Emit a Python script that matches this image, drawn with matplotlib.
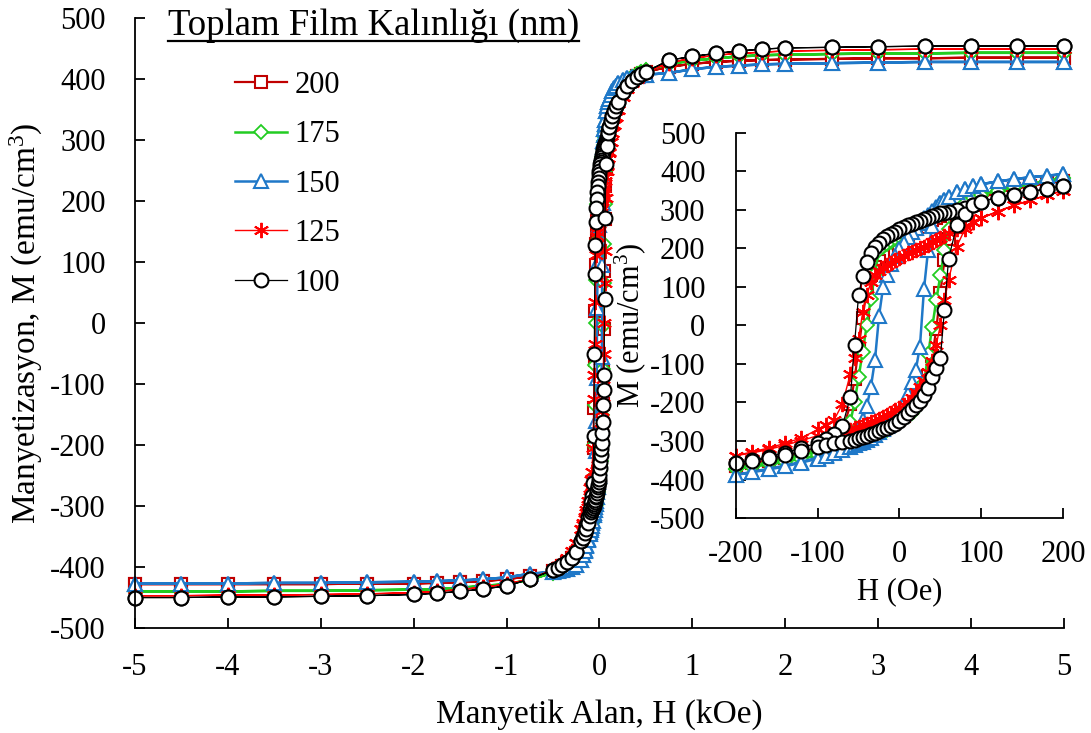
import matplotlib
matplotlib.use("Agg")
import matplotlib.pyplot as plt
import numpy as np
from matplotlib.lines import Line2D

plt.rcParams['font.family'] = ['Liberation Serif', 'DejaVu Serif']
plt.rcParams['mathtext.fontset'] = 'custom'
plt.rcParams['mathtext.rm'] = 'Liberation Serif'
plt.rcParams['axes.unicode_minus'] = False

# --- field grids ---
# high-field points (kOe), mirrored for the negative side
H_FAR = [0.25, 0.3, 0.35, 0.4, 0.45, 0.5, 0.75, 1, 1.25, 1.5, 1.75, 2,
         2.5, 3, 3.5, 4, 4.5, 5]
# low-field loop points (Oe)
H_LOOP = [-200, -180, -160, -140, -120, -100, -90, -80, -70,
          -60, -55, -50, -45, -40, -35, -30, -25, -20, -15, -10, -5, 0,
          5, 10, 15, 20, 25, 30, 35, 40, 45, 50, 55, 60,
          70, 80, 90, 100, 120, 140, 160, 180, 200]

# --- 200 nm ---
M200_POS = [386, 394, 400, 405, 409, 412, 420, 425, 428, 430, 431, 432, 433, 434, 434, 435, 435, 435]
M200_NEG = [-377, -386, -393, -398, -403, -407, -415, -420, -423, -425, -426, -427, -427, -428, -428, -428, -428, -428]
M200_DOWN = [-365, -358, -350, -341, -331, -319, -310, -298, -275,
             -205, -140, -60, 20, 95, 130, 152, 168, 182, 194, 204, 213, 221,
             229, 236, 243, 250, 256, 262, 268, 274, 280, 285, 291, 296,
             306, 316, 325, 333, 345, 355, 363, 370, 375]
M200_UP = [-365, -358, -351, -343, -334, -325, -319, -313, -307,
           -301, -297, -293, -290, -286, -282, -278, -273, -268, -262, -256, -249, -242,
           -234, -225, -214, -201, -185, -162, -132, -80, -10, 85, 170, 225,
           255, 288, 313, 333, 345, 355, 363, 370, 375]

# --- 175 nm ---
M175_POS = [392, 399, 404, 408, 411, 414, 425, 430, 434, 437, 439, 440, 441, 442, 442, 443, 443, 443]
M175_NEG = [-384, -392, -398, -402, -406, -409, -421, -428, -431, -434, -436, -437, -438, -439, -439, -440, -440, -440]
M175_DOWN = [-372, -365, -357, -348, -338, -326, -318, -308, -290,
             -250, -200, -135, -68, 0, 70, 135, 195, 205, 212, 218, 224, 230,
             238, 245, 252, 259, 265, 272, 278, 285, 292, 298, 305, 311,
             320, 328, 334, 340, 350, 359, 367, 375, 383]
M175_UP = [-372, -367, -361, -354, -346, -337, -332, -327, -321,
           -315, -311, -307, -303, -299, -294, -289, -283, -277, -271, -264, -257, -250,
           -243, -235, -226, -214, -198, -150, -75, -5, 65, 130, 195, 250,
           290, 318, 332, 340, 350, 359, 367, 375, 383]

# --- 150 nm ---
M150_POS = [398, 401, 403, 405, 406, 407, 410, 416, 420, 422, 424, 425, 426, 427, 428, 428, 428, 428]
M150_NEG = [-396, -400, -403, -405, -407, -408, -411, -417, -420, -422, -423, -424, -425, -426, -426, -427, -427, -427]
M150_DOWN = [-388, -380, -372, -364, -354, -343, -336, -328, -315,
             -298, -285, -268, -245, -210, -160, -90, 25, 100, 132, 160, 181, 198,
             215, 231, 243, 254, 266, 278, 288, 298, 309, 318, 326, 333,
             347, 355, 362, 367, 374, 380, 385, 389, 393]
M150_UP = [-388, -381, -374, -366, -356, -346, -339, -332, -324,
           -315, -311, -306, -302, -297, -291, -285, -277, -268, -260, -250, -238, -224,
           -203, -178, -148, -115, -55, 95, 196, 258, 296, 318, 326, 333,
           347, 355, 362, 367, 374, 380, 385, 389, 393]

# --- 125 nm ---
M125_POS = [370, 383, 393, 400, 406, 411, 427, 434, 439, 442, 444, 446, 447, 448, 449, 449, 449, 449]
M125_NEG = [-360, -374, -385, -393, -399, -404, -420, -428, -433, -437, -440, -442, -444, -445, -446, -446, -447, -447]
M125_DOWN = [-338, -328, -318, -306, -292, -270, -258, -245, -205,
             -125, -85, -35, 35, 78, 112, 130, 142, 150, 157, 163, 169, 175,
             181, 187, 192, 196, 200, 205, 210, 216, 222, 227, 233, 239,
             250, 258, 270, 278, 296, 312, 325, 338, 350]
M125_UP = [-338, -331, -322, -311, -299, -286, -281, -277, -274,
           -271, -267, -263, -259, -255, -251, -247, -242, -237, -232, -227, -220, -214,
           -207, -199, -188, -174, -159, -145, -122, -92, -50, 0, 65, 118,
           205, 250, 270, 280, 296, 312, 325, 338, 350]

# --- 100 nm ---
M100_POS = [378, 389, 397, 403, 408, 412, 431, 437, 442, 446, 449, 451, 452, 453, 454, 454, 454, 454]
M100_NEG = [-375, -385, -391, -397, -401, -405, -420, -431, -436, -440, -443, -445, -447, -448, -449, -449, -450, -450]
M100_DOWN = [-357, -349, -341, -331, -318, -305, -294, -283, -262,
             -185, -50, 80, 128, 165, 188, 203, 215, 224, 232, 238, 244, 250,
             256, 260, 264, 268, 272, 276, 280, 284, 288, 291, 293, 295,
             299, 305, 314, 322, 332, 340, 347, 355, 362]
M100_UP = [-357, -352, -345, -337, -327, -316, -310, -306, -303,
           -300, -297, -293, -290, -286, -283, -278, -273, -268, -265, -261, -256, -249,
           -238, -227, -217, -207, -196, -181, -163, -135, -110, -85, 40, 172,
           260, 290, 312, 322, 332, 340, 347, 355, 362]

LABELS = ['200', '175', '150', '125', '100']
DATA = [
    (M200_POS, M200_NEG, M200_DOWN, M200_UP),
    (M175_POS, M175_NEG, M175_DOWN, M175_UP),
    (M150_POS, M150_NEG, M150_DOWN, M150_UP),
    (M125_POS, M125_NEG, M125_DOWN, M125_UP),
    (M100_POS, M100_NEG, M100_DOWN, M100_UP),
]
STYLES = [
    dict(color='#C00000', marker='s', lw=1.6, ms=9, mew=1.5),
    dict(color='#22CC22', marker='D', lw=1.8, ms=7, mew=1.3),
    dict(color='#1F78C8', marker='^', lw=1.8, ms=10, mew=1.5),
    dict(color='#FF0000', marker=(6, 2, 0), lw=1.0, ms=11, mew=1.4),
    dict(color='black', marker='o', lw=0.9, ms=10, mew=1.5),
]


def full_loop(m_pos, m_neg, m_down, m_up):
    """Descending then ascending branch, field in kOe."""
    far = np.array(H_FAR, dtype=float)
    loop = np.array(H_LOOP, dtype=float) / 1000.0
    h = np.concatenate([far[::-1], loop[::-1], -far, -far[::-1], loop, far])
    m = np.concatenate([np.array(m_pos)[::-1], np.array(m_down)[::-1], m_neg,
                        np.array(m_neg)[::-1], m_up, m_pos])
    return h, m


def low_loop(m_down, m_up):
    loop = np.array(H_LOOP, dtype=float)
    h = np.concatenate([loop[::-1], loop])
    m = np.concatenate([np.array(m_down)[::-1], m_up])
    return h, m


fig = plt.figure(figsize=(10.91, 7.33), dpi=100)

# main axes
ax = fig.add_axes([0.1237, 0.1432, 0.8515, 0.8322])
handles = []
for (mp, mn, md, mu), st in zip(DATA, STYLES):
    h, m = full_loop(mp, mn, md, mu)
    ln, = ax.plot(h, m, color=st['color'], lw=st['lw'], marker=st['marker'],
                  ms=st['ms'], mew=st['mew'], mfc='white', mec=st['color'],
                  clip_on=False)
    handles.append(ln)

ax.set_xlim(-5, 5)
ax.set_ylim(-500, 500)
ax.set_xticks(np.arange(-5, 6, 1))
ax.set_yticks(np.arange(-500, 501, 100))
for s in ['top', 'right']:
    ax.spines[s].set_visible(False)
for s in ['left', 'bottom']:
    ax.spines[s].set_linewidth(1.3)
ax.tick_params(direction='in', length=7, width=1.3, labelsize=22)
ax.tick_params(axis='x', pad=18)
ax.tick_params(axis='y', pad=21)
ax.set_xlabel('Manyetik Alan, H (kOe)', fontsize=24)
ax.set_ylabel(r'Manyetizasyon, M (emu/cm$\mathregular{^3}$)', fontsize=24)
ax.xaxis.set_label_coords(0.5, -0.116)
ax.yaxis.set_label_coords(-0.097, 0.5)

leg = ax.legend(handles, LABELS, loc='upper left',
                bbox_to_anchor=(0.2154, 0.9035), bbox_transform=fig.transFigure,
                frameon=False, fontsize=22, handlelength=1.7, handletextpad=0.25,
                labelspacing=0.67, borderpad=0, borderaxespad=0)

title = fig.text(168 / 1091, 1 - 35 / 733, 'Toplam Film Kalınlığı (nm)',
                 ha='left', va='baseline', fontsize=26.5)

# inset: low-field loops
axi = fig.add_axes([0.6746, 0.2933, 0.2997, 0.5253])
axi.patch.set_alpha(0)
for (mp, mn, md, mu), st in zip(DATA, STYLES):
    h, m = low_loop(md, mu)
    axi.plot(h, m, color=st['color'], lw=st['lw'], marker=st['marker'],
             ms=st['ms'], mew=st['mew'], mfc='white', mec=st['color'],
             clip_on=False)
axi.set_xlim(-200, 200)
axi.set_ylim(-500, 500)
axi.set_xticks(np.arange(-200, 201, 100))
axi.set_yticks(np.arange(-500, 501, 100))
for s in ['top', 'right']:
    axi.spines[s].set_visible(False)
for s in ['left', 'bottom']:
    axi.spines[s].set_linewidth(1.3)
axi.tick_params(direction='in', length=7, width=1.3, labelsize=22)
axi.tick_params(axis='x', pad=16)
axi.tick_params(axis='y', pad=22)
axi.set_xlabel('H (Oe)', fontsize=22)
axi.set_ylabel(r'M (emu/cm$\mathregular{^3}$)', fontsize=22)
axi.xaxis.set_label_coords(0.5, -0.155)
axi.yaxis.set_label_coords(-0.27, 0.5)

# underline under the legend heading
fig.canvas.draw()
bb = title.get_window_extent()
y_line = (733 - 41) / 733
fig.add_artist(Line2D([bb.x0 / 1091, bb.x1 / 1091], [y_line, y_line],
                      transform=fig.transFigure, color='black', lw=1.6))

fig.savefig('out.png', dpi=100)
